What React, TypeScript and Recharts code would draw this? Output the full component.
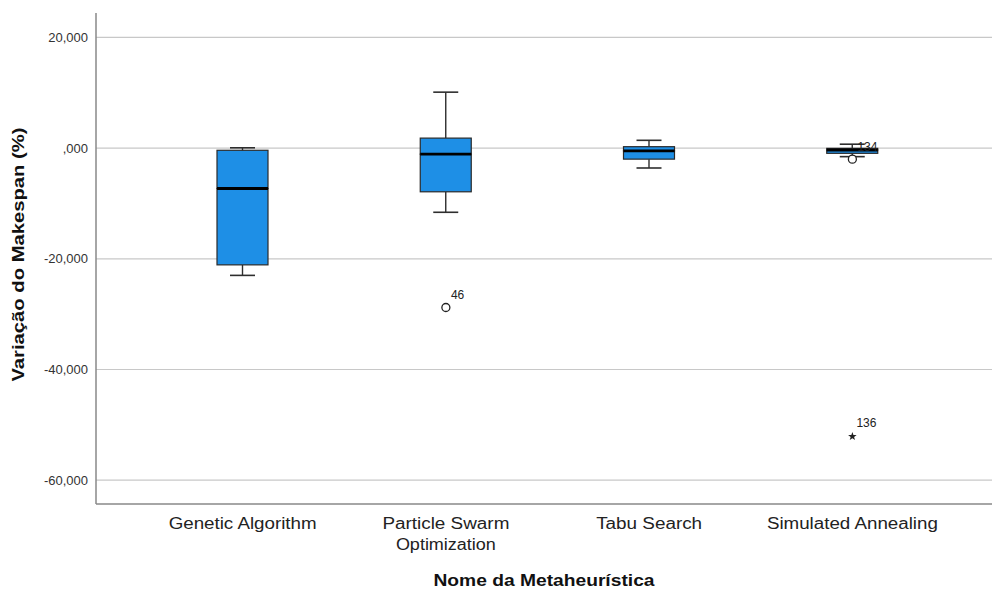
import React from 'react';
import { ComposedChart, Bar, Scatter, XAxis, YAxis, CartesianGrid, Label } from 'recharts';

const categories = ['Genetic Algorithm', 'Particle Swarm Optimization', 'Tabu Search', 'Simulated Annealing'];
const tickLines = [['Genetic Algorithm'], ['Particle Swarm', 'Optimization'], ['Tabu Search'], ['Simulated Annealing']];
const tickWidths = [[148], [127, 100], [106], [171]];
const minValues = [-23.0, -11.6, -3.6, -1.55];
const q1Values = [-21.1, -7.9, -2.0, -0.95];
const medianValues = [-7.3, -1.1, -0.5, -0.35];
const q3Values = [-0.4, 1.8, 0.25, -0.05];
const maxValues = [0.05, 10.1, 1.4, 0.7];
const circleOutliers: (number | null)[] = [null, -28.8, null, -2.0];
const circleOutlierIds: (string | null)[] = [null, '46', null, '134'];
const starOutliers: (number | null)[] = [null, null, null, -52.1];
const starOutlierIds: (string | null)[] = [null, null, null, '136'];
const yTicks = [-60, -40, -20, 0, 20];
const yDomain = [-64.3, 24.4];

const data = categories.map((name, i) => ({
  name,
  idx: i,
  base: minValues[i],
  lowWhisker: q1Values[i] - minValues[i],
  boxLow: medianValues[i] - q1Values[i],
  boxHigh: q3Values[i] - medianValues[i],
  highWhisker: maxValues[i] - q3Values[i],
  circle: circleOutliers[i],
  circleId: circleOutlierIds[i],
  star: starOutliers[i],
  starId: starOutlierIds[i],
}));

const FONT = '"Liberation Sans", Arial, sans-serif';
const BOX_FILL = '#1e8fe6';
const BOX_STROKE = '#2a2a2a';
const WHISKER = '#2e2e2e';
const CAP = 25;

const Empty = () => <g />;

const LowWhisker = (p: any) => {
  const cx = p.x + p.width / 2;
  const yb = p.y + p.height;
  return (
    <g>
      <line x1={cx} x2={cx} y1={p.y} y2={yb} stroke={WHISKER} strokeWidth={1.4} />
      <line x1={cx - CAP / 2} x2={cx + CAP / 2} y1={yb} y2={yb} stroke={WHISKER} strokeWidth={1.6} />
    </g>
  );
};

const HighWhisker = (p: any) => {
  const cx = p.x + p.width / 2;
  return (
    <g>
      <line x1={cx} x2={cx} y1={p.y} y2={p.y + p.height} stroke={WHISKER} strokeWidth={1.4} />
      <line x1={cx - CAP / 2} x2={cx + CAP / 2} y1={p.y} y2={p.y} stroke={WHISKER} strokeWidth={1.6} />
    </g>
  );
};

const BoxLow = (p: any) => (
  <rect x={p.x} y={p.y} width={p.width} height={Math.max(p.height, 0)} fill={BOX_FILL} stroke={BOX_STROKE} strokeWidth={1.2} />
);

const BoxHigh = (p: any) => (
  <g>
    <rect x={p.x} y={p.y} width={p.width} height={Math.max(p.height, 0)} fill={BOX_FILL} stroke={BOX_STROKE} strokeWidth={1.2} />
    <line x1={p.x} x2={p.x + p.width} y1={p.y + p.height} y2={p.y + p.height} stroke="#000" strokeWidth={2.8} />
  </g>
);

const CircleOutlier = (p: any) => {
  if (!p.payload || p.payload.circle == null || !isFinite(p.cy)) return <g />;
  return (
    <g>
      <circle cx={p.cx} cy={p.cy} r={4} fill="#fff" stroke="#222" strokeWidth={1.3} />
      <text x={p.cx + 5} y={p.cy - 8} fontSize={12} fontFamily={FONT} fill="#222">
        {p.payload.circleId}
      </text>
    </g>
  );
};

const StarOutlier = (p: any) => {
  if (!p.payload || p.payload.star == null || !isFinite(p.cy)) return <g />;
  const pts: string[] = [];
  for (let k = 0; k < 10; k++) {
    const r = k % 2 === 0 ? 4.5 : 1.8;
    const a = -Math.PI / 2 + (k * Math.PI) / 5;
    pts.push(`${p.cx + r * Math.cos(a)},${p.cy + r * Math.sin(a)}`);
  }
  return (
    <g>
      <polygon points={pts.join(' ')} fill="#222" />
      <text x={p.cx + 4} y={p.cy - 9} fontSize={12} fontFamily={FONT} fill="#222">
        {p.payload.starId}
      </text>
    </g>
  );
};

const XTick = (p: any) => {
  const i = p.payload?.index ?? p.index;
  const lines = tickLines[i] || [String(p.payload?.value)];
  return (
    <g>
      {lines.map((l, k) => (
        <text
          key={k}
          x={p.x}
          y={p.y + 17 + k * 21}
          textAnchor="middle"
          fontSize={16}
          fontFamily={FONT}
          fill="#222"
          textLength={tickWidths[i]?.[k]}
          lengthAdjust="spacingAndGlyphs"
        >
          {l}
        </text>
      ))}
    </g>
  );
};

const XTitle = (p: any) => {
  const vb = p.viewBox || {};
  return (
    <text
      x={vb.x + vb.width / 2}
      y={vb.y + 82}
      textAnchor="middle"
      fontSize={17}
      fontWeight="bold"
      fontFamily={FONT}
      fill="#111"
      textLength={221}
      lengthAdjust="spacingAndGlyphs"
    >
      Nome da Metaheurística
    </text>
  );
};

const YTitle = (p: any) => {
  const vb = p.viewBox || {};
  const cx = 24;
  const cy = vb.y + vb.height / 2 - 4;
  return (
    <text
      x={cx}
      y={cy}
      transform={`rotate(-90 ${cx} ${cy})`}
      textAnchor="middle"
      fontSize={17}
      fontWeight="bold"
      fontFamily={FONT}
      fill="#111"
      textLength={254}
      lengthAdjust="spacingAndGlyphs"
    >
      Variação do Makespan (%)
    </text>
  );
};

const fmt = (v: number) => (v === 0 ? ',000' : `${v},000`);

export default function App() {
  return (
    <div style={{ position: 'absolute', left: 0, top: 0, width: 993, height: 591, background: '#fff' }}>
      <ComposedChart width={993} height={591} data={data} margin={{ top: 13, right: 1, bottom: 0, left: 0 }}>
        <CartesianGrid vertical={false} horizontal stroke="#c8c8c8" strokeWidth={1.2} syncWithTicks />
        <XAxis
          dataKey="name"
          height={87}
          padding={{ left: 45, right: 38 }}
          axisLine={{ stroke: '#888', strokeWidth: 1.5 }}
          tickLine={false}
          tick={<XTick />}
          interval={0}
          allowDuplicatedCategory={false}
        >
          <Label content={<XTitle />} />
        </XAxis>
        <YAxis
          width={96}
          domain={yDomain}
          ticks={yTicks}
          allowDataOverflow
          type="number"
          axisLine={{ stroke: '#888', strokeWidth: 1.5 }}
          tickLine={false}
          tick={{ fontSize: 13, fontFamily: FONT, fill: '#333' }}
          tickFormatter={fmt}
        >
          <Label content={<YTitle />} />
        </YAxis>
        <Bar dataKey="base" stackId="box" barSize={51} shape={<Empty />} isAnimationActive={false} />
        <Bar dataKey="lowWhisker" stackId="box" barSize={51} shape={<LowWhisker />} isAnimationActive={false} />
        <Bar dataKey="boxLow" stackId="box" barSize={51} shape={<BoxLow />} isAnimationActive={false} />
        <Bar dataKey="boxHigh" stackId="box" barSize={51} shape={<BoxHigh />} isAnimationActive={false} />
        <Bar dataKey="highWhisker" stackId="box" barSize={51} shape={<HighWhisker />} isAnimationActive={false} />
        <Scatter dataKey="circle" shape={<CircleOutlier />} isAnimationActive={false} />
        <Scatter dataKey="star" shape={<StarOutlier />} isAnimationActive={false} />
      </ComposedChart>
    </div>
  );
}
